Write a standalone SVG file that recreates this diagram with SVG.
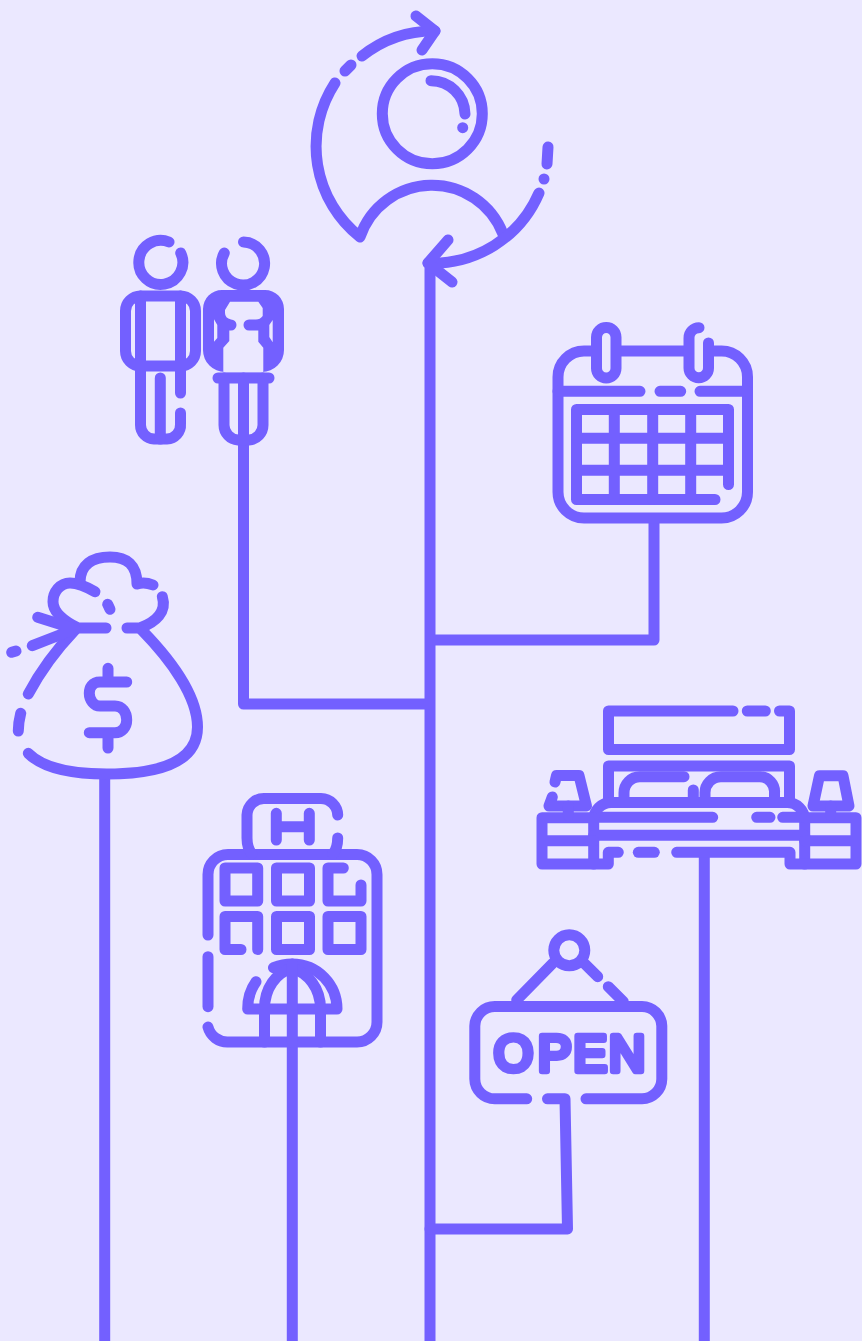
<svg xmlns="http://www.w3.org/2000/svg" width="862" height="1341" viewBox="0 0 862 1341">
<style>
.s{fill:none;stroke:#7360ff;stroke-width:11;stroke-linecap:round;stroke-linejoin:round}
.f{fill:#7360ff;stroke:none}
.t{font-family:"Liberation Sans",Arial,sans-serif;font-weight:400;font-size:50px;fill:#7360ff;stroke:#7360ff;stroke-width:6.5;stroke-linejoin:round}
</style>
<rect width="862" height="1341" fill="#ebe8ff"/>
<g id="connectors" class="s">
<path stroke-linecap="butt" d="M430,263V1341"/>
<path stroke-linecap="butt" d="M243.5,440V704H430"/>
<path stroke-linecap="butt" d="M654,518V640H430"/>
<path stroke-linecap="butt" d="M104.7,774V1341"/>
<path stroke-linecap="butt" d="M292.3,1042V1341"/>
<path stroke-linecap="butt" d="M704.3,852V1341"/>
<path d="M547.5,1098.8H565L567.5,1229H430"/>
</g>
<g id="person" class="s">
<circle cx="432.3" cy="113.7" r="50"/>
<path d="M431,80.7A34,34 0 0 1 465,114"/>
<path d="M462.7,127.7h.01"/>
<path d="M503,234A76,76 0 0 0 360,237A115.5,115.5 0 0 1 335,83"/>
<path d="M345,71L351,65"/>
<path d="M362,56A115.5,115.5 0 0 1 435,31"/>
<path d="M416,16L435,31L422,50"/>
<path d="M548,147L547,164"/>
<path d="M544,179h.01"/>
<path d="M539,193A115.5,115.5 0 0 1 428,263"/>
<path d="M448,240L428,263L452,282"/>
</g>
<g id="couple">
<g class="s">
<path d="M169,242A22,22 0 1 0 180.7,253"/>
<rect x="125.5" y="296" width="70" height="70" rx="15"/>
<path d="M140.5,296V425A14,14 0 0 0 154,439H167A14,14 0 0 0 180.5,424V413"/>
<path d="M180.5,296V393"/>
<path d="M160.3,378V439"/>
<path d="M243.5,242A21.5,21.5 0 1 1 224.3,253"/>
<path d="M218,378H269"/>
<path d="M224,378V425A15,15 0 0 0 238,440H249A15,15 0 0 0 263,425V378"/>
<path d="M243.5,378V440"/>
</g>
<path class="f" fill-rule="evenodd" d="M222,290H265A19,19 0 0 1 284,309V350A22,22 0 0 1 262,372H225A22,22 0 0 1 203,350V309A19,19 0 0 1 222,290ZM230,301.7L225,310V313Q225,318 231,319.5A5.5,5.5 0 0 1 231,330.5H229.3V341L223.3,347.7V372.3H263.3V347.7L258.3,341.7V330.5H249A5.5,5.5 0 0 1 249,319.5H256Q260,319.5 262.7,316V308L258.3,301.7ZM214,319.3V341.7L217.3,338V325ZM272.7,320L269.3,325V337L272.7,342.3Z"/>
</g>
<g id="calendar" class="s">
<path d="M591,351H584A26,26 0 0 0 558,377V492A26,26 0 0 0 584,518H721A26,26 0 0 0 747.5,492V377A26,26 0 0 0 721,351H714"/>
<path d="M621,351H684"/>
<rect x="596.5" y="327.5" width="19.5" height="50.5" rx="9.75"/>
<path d="M699,327.7A10,10 0 0 0 689,338V368A9.75,9.75 0 0 0 708.5,368V343"/>
<path d="M558,391.3H640M660,391.3H680.7M700,391.3H747.5"/>
<path d="M715,499.5H576.5V409.5H728.5V484.5"/>
<path d="M576.5,438.3H728.5M576.5,470.3H728.5M614.3,409.5V499.5M652.7,409.5V499.5M690.7,409.5V499.5"/>
</g>
<g id="money-bag" class="s">
<path d="M95,591.7C85,586 77,583 70,583C60,583 53,592 53,601.7C53,613 66,622 78,628H106"/>
<path d="M80,582C80,565 92,557 110,557C127,557 137,565 137,584C143,582 148,583 153,585"/>
<path d="M162.3,596.7C167,612 156,622 140,628H127"/>
<path d="M107.7,604.3L110,609.3"/>
<path d="M141.7,630C172,661 197.5,697 197.5,727C197.5,762 160,774 106.7,774C70,774 43,768 28.3,753.3"/>
<path d="M75,630C56,650 41,670 28.3,694"/>
<path d="M20.7,713.3C19,720 18.3,725 18.3,731"/>
<path d="M37.7,617.3L75,629L32.3,645.7"/>
<path d="M11.7,652.3L16,651"/>
<path d="M108,668.3V680M126.7,682H100C92,682 89.3,688 89.3,693.3C89.3,700 94,706 100,706H115C122,706 126.7,712 126.7,720C126.7,727 122,732.7 115,732.7H89.3M108,737V748"/>
</g>
<g id="bed" class="s">
<path d="M733,711H608.5V749.5H789.5V711H779.5M747.3,711H765.3"/>
<path d="M608.5,802V766H789.5V802"/>
<path d="M684,776.7H640A16,16 0 0 0 624,793V802"/>
<path d="M705,802V793A16,16 0 0 1 721,776.7H760A15,15 0 0 1 774.5,793V802"/>
<path d="M693.3,790V802"/>
<path d="M593.7,864V820A17.5,17.5 0 0 1 611,802.5H787A17.5,17.5 0 0 1 804.7,820V864"/>
<path d="M593.7,817.3H712.7M756.7,817.3H770M782.7,817.3H804.7"/>
<path d="M593.7,835.3H804.7"/>
<path d="M618.3,852.3H608.3V864H542V817.7H593.7M542,840.8H593.7"/>
<path d="M638.3,852.3H654.3"/>
<path d="M676.7,852.3H790V864H856V817.7H804.7M804.7,840.8H856"/>
<path d="M555,782L556.5,775.5H579L586.5,806H549L552.3,797"/>
<path d="M568.3,806V815"/>
<path d="M819.5,775.7H843L849,806H813Z"/>
<path d="M830.7,806V815"/>
</g>
<g id="hotel" class="s">
<path d="M208,935V875A20,20 0 0 1 228,854.5H357A20,20 0 0 1 377,875V1022A20,20 0 0 1 357,1042H228A20,20 0 0 1 208,1027"/>
<path d="M208,956.7V1006.7"/>
<path d="M337.7,815A17,17 0 0 0 321,798.5H265A17,17 0 0 0 247,815V838Q247,848 252,854"/>
<path d="M337.7,838Q337.7,848 333,854"/>
<path d="M276.3,813.3V840M309.3,813.3V840M276.3,826.7H309.3"/>
<rect x="225" y="868" width="32.7" height="33"/>
<rect x="276.5" y="868" width="33" height="33"/>
<path d="M343.3,868H328V901H361V885"/>
<path d="M241,949.5H225V916.5H257.7V949.5"/>
<rect x="276.5" y="916.5" width="33" height="33"/>
<rect x="328" y="916.5" width="33" height="33"/>
<path d="M273.5,967.7Q283,964 292,964C318,964 337,985 337,1009H247.7C247.7,998 250,990 256,981.7"/>
<path d="M264.5,1042V1009C264.5,988 276,973 292,968C308,973 320.5,988 320.5,1009V1042"/>
<path d="M292.3,964V1042"/>
</g>
<g id="open-sign">
<g class="s">
<circle cx="569.3" cy="950.3" r="15.5"/>
<path d="M553,963L516.7,1000"/>
<path d="M583.3,962.3L597.7,976.7M608.3,986.7L623.3,1001.7"/>
<path d="M526.7,1098.8H495A20,20 0 0 1 474.8,1079V1026A20,20 0 0 1 495,1006.5H642A20,20 0 0 1 661.8,1026V1079A20,20 0 0 1 642,1098.8H586"/>
</g>
<text class="t" y="1070.5" x="494 538 573.5 609">OPEN</text>
</g>
</svg>
